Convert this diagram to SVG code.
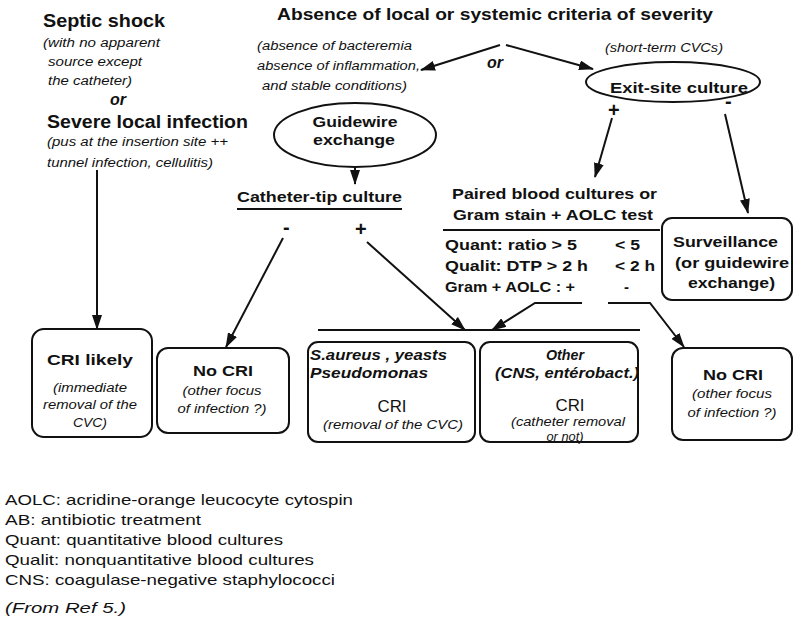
<svg xmlns="http://www.w3.org/2000/svg" width="797" height="627" viewBox="0 0 797 627">
<style>
text{font-family:"Liberation Sans",Arial,sans-serif;fill:#111}
.b{font-weight:bold}
.i{font-style:italic}
.bi{font-weight:bold;font-style:italic}
.t{font-size:17px;font-weight:bold}
.h{font-size:18px;font-weight:bold}
.s{font-size:12.5px;font-style:italic}
.n{font-size:15px;font-weight:bold}
.l{font-size:15px}
.m{text-anchor:middle}
.box{fill:#fff;stroke:#111;stroke-width:2}
.ln{fill:none;stroke:#111;stroke-width:2}
.ar{fill:none;stroke:#111;stroke-width:2;marker-end:url(#ah)}
</style>
<defs>
<marker id="ah" markerUnits="userSpaceOnUse" markerWidth="15" markerHeight="10" refX="14" refY="5" orient="auto">
<path d="M0,0 L15,5 L0,10 z" fill="#111"/>
</marker>
</defs>
<rect width="797" height="627" fill="#fff"/>

<g id="title">
<text class="t" x="277" y="20" textLength="436" lengthAdjust="spacingAndGlyphs">Absence of local or systemic criteria of severity</text>
<text class="i b" x="487" y="68" font-size="16">or</text>
</g>

<g id="severe">
<text class="h" x="43" y="27" textLength="122" lengthAdjust="spacingAndGlyphs">Septic shock</text>
<text class="s" x="43" y="47" textLength="117" lengthAdjust="spacingAndGlyphs">(with no apparent</text>
<text class="s" x="48" y="66" textLength="94" lengthAdjust="spacingAndGlyphs">source except</text>
<text class="s" x="48" y="85" textLength="84" lengthAdjust="spacingAndGlyphs">the catheter)</text>
<text class="i b" x="110" y="105" font-size="16">or</text>
<text class="h" x="47" y="128" textLength="201" lengthAdjust="spacingAndGlyphs">Severe local infection</text>
<text class="s" x="47" y="146" textLength="181" lengthAdjust="spacingAndGlyphs">(pus at the insertion site ++</text>
<text class="s" x="47" y="167" textLength="166" lengthAdjust="spacingAndGlyphs">tunnel infection, cellulitis)</text>
</g>

<g id="absence-note">
<text class="s" x="257" y="50" textLength="155" lengthAdjust="spacingAndGlyphs">(absence of bacteremia</text>
<text class="s" x="257" y="70" textLength="163" lengthAdjust="spacingAndGlyphs">absence of inflammation,</text>
<text class="s" x="262" y="90" textLength="145" lengthAdjust="spacingAndGlyphs">and stable conditions)</text>
</g>

<g id="guidewire">
<ellipse class="box" cx="355" cy="135" rx="81" ry="32"/>
<text class="n m" x="355" y="127" textLength="85" lengthAdjust="spacingAndGlyphs">Guidewire</text>
<text class="n m" x="354" y="145" textLength="82" lengthAdjust="spacingAndGlyphs">exchange</text>
</g>

<g id="exit-site">
<text class="s" x="605" y="52" textLength="118" lengthAdjust="spacingAndGlyphs">(short-term CVCs)</text>
<ellipse class="box" cx="673" cy="82" rx="87" ry="20"/>
<text class="n" x="610" y="93" textLength="138" lengthAdjust="spacingAndGlyphs">Exit-site culture</text>
</g>

<g id="catheter-tip">
<text class="n" x="237" y="202" textLength="165" lengthAdjust="spacingAndGlyphs">Catheter-tip culture</text>
<line class="ln" x1="237" y1="209" x2="402" y2="209"/>
</g>

<g id="paired">
<text class="n" x="452" y="199" textLength="205" lengthAdjust="spacingAndGlyphs">Paired blood cultures or</text>
<text class="n" x="453" y="220" textLength="200" lengthAdjust="spacingAndGlyphs">Gram stain + AOLC test</text>
<line class="ln" x1="443" y1="230" x2="660" y2="230"/>
<text class="n" x="445" y="250" textLength="132" lengthAdjust="spacingAndGlyphs">Quant: ratio &gt; 5</text>
<text class="n" x="615" y="250" textLength="25" lengthAdjust="spacingAndGlyphs">&lt; 5</text>
<text class="n" x="445" y="271" textLength="143" lengthAdjust="spacingAndGlyphs">Qualit: DTP &gt; 2 h</text>
<text class="n" x="615" y="271" textLength="40" lengthAdjust="spacingAndGlyphs">&lt; 2 h</text>
<text class="n" x="445" y="292" textLength="130" lengthAdjust="spacingAndGlyphs">Gram + AOLC : +</text>
<text class="n" x="624" y="292">-</text>
</g>

<g id="surveillance">
<rect class="box" x="662" y="218" width="130" height="82" rx="10"/>
<text class="n" x="673" y="247" textLength="105" lengthAdjust="spacingAndGlyphs">Surveillance</text>
<text class="n" x="675" y="268" textLength="114" lengthAdjust="spacingAndGlyphs">(or guidewire</text>
<text class="n" x="688" y="288" textLength="87" lengthAdjust="spacingAndGlyphs">exchange)</text>
</g>

<g id="cri-likely">
<rect class="box" x="32" y="329" width="120" height="108" rx="12"/>
<text class="n m" x="90" y="365" font-size="16" textLength="86" lengthAdjust="spacingAndGlyphs">CRI likely</text>
<text class="s m" x="90" y="392" textLength="74" lengthAdjust="spacingAndGlyphs">(immediate</text>
<text class="s m" x="90" y="409" textLength="94" lengthAdjust="spacingAndGlyphs">removal of the</text>
<text class="s m" x="90" y="427" textLength="34" lengthAdjust="spacingAndGlyphs">CVC)</text>
</g>

<g id="no-cri-left">
<rect class="box" x="157" y="348" width="132" height="85" rx="11"/>
<text class="n m" x="223" y="376" textLength="60" lengthAdjust="spacingAndGlyphs">No CRI</text>
<text class="s m" x="222" y="395" textLength="79" lengthAdjust="spacingAndGlyphs">(other focus</text>
<text class="s m" x="222" y="413" textLength="89" lengthAdjust="spacingAndGlyphs">of infection ?)</text>
</g>

<g id="cri-saureus">
<rect class="box" x="308" y="342" width="167" height="100" rx="10"/>
<text class="bi" x="310" y="360" font-size="14" textLength="137" lengthAdjust="spacingAndGlyphs">S.aureus , yeasts</text>
<text class="bi" x="310" y="378" font-size="14" textLength="118" lengthAdjust="spacingAndGlyphs">Pseudomonas</text>
<text class="m" x="392" y="412" font-size="17" textLength="29" lengthAdjust="spacingAndGlyphs">CRI</text>
<text class="s m" x="393" y="429" font-size="12" textLength="140" lengthAdjust="spacingAndGlyphs">(removal of the CVC)</text>
</g>

<g id="cri-other">
<rect class="box" x="480" y="342" width="158" height="100" rx="10"/>
<text class="bi m" x="565" y="360" font-size="14" textLength="38" lengthAdjust="spacingAndGlyphs">Other</text>
<text class="bi m" x="567" y="378" font-size="14" textLength="144" lengthAdjust="spacingAndGlyphs">(CNS, entérobact.)</text>
<text class="m" x="570" y="411" font-size="17" textLength="29" lengthAdjust="spacingAndGlyphs">CRI</text>
<text class="s m" x="568" y="426" font-size="12" textLength="114" lengthAdjust="spacingAndGlyphs">(catheter removal</text>
<text class="s m" x="565" y="441" font-size="12" textLength="37" lengthAdjust="spacingAndGlyphs">or not)</text>
</g>

<g id="no-cri-right">
<rect class="box" x="672" y="348" width="120" height="92" rx="11"/>
<text class="n m" x="733" y="380" textLength="60" lengthAdjust="spacingAndGlyphs">No CRI</text>
<text class="s m" x="732" y="398" textLength="80" lengthAdjust="spacingAndGlyphs">(other focus</text>
<text class="s m" x="732" y="417" textLength="89" lengthAdjust="spacingAndGlyphs">of infection ?)</text>
</g>

<g id="connectors">
<path class="ar" d="M97,170 L97,329"/>
<path class="ar" d="M500,45 L421,70"/>
<path class="ar" d="M506,45 L593,69"/>
<path class="ar" d="M355,167 L355,184"/>
<path class="ar" d="M612,118 L595,177"/>
<path class="ar" d="M725,114 L748,213"/>
<path class="ar" d="M283,238 L226,347"/>
<path class="ar" d="M367,242 L465,330"/>
<path class="ar" d="M582,303 L535,303 L492,330"/>
<path class="ar" d="M608,303 L650,303 L684,347"/>
<line class="ln" x1="318" y1="330" x2="640" y2="330"/>
<text class="b" x="608" y="117" font-size="20">+</text>
<text class="b" x="725" y="108" font-size="20">-</text>
<text class="b" x="283" y="234" font-size="20">-</text>
<text class="b" x="355" y="236" font-size="20">+</text>
</g>

<g id="legend">
<text class="l" x="5" y="505" textLength="348" lengthAdjust="spacingAndGlyphs">AOLC: acridine-orange leucocyte cytospin</text>
<text class="l" x="5" y="525" textLength="196" lengthAdjust="spacingAndGlyphs">AB: antibiotic treatment</text>
<text class="l" x="5" y="545" textLength="278" lengthAdjust="spacingAndGlyphs">Quant: quantitative blood cultures</text>
<text class="l" x="5" y="565" textLength="309" lengthAdjust="spacingAndGlyphs">Qualit: nonquantitative blood cultures</text>
<text class="l" x="5" y="585" textLength="330" lengthAdjust="spacingAndGlyphs">CNS: coagulase-negative staphylococci</text>
<text class="l i" x="5" y="613" textLength="121" lengthAdjust="spacingAndGlyphs">(From Ref 5.)</text>
</g>
</svg>
